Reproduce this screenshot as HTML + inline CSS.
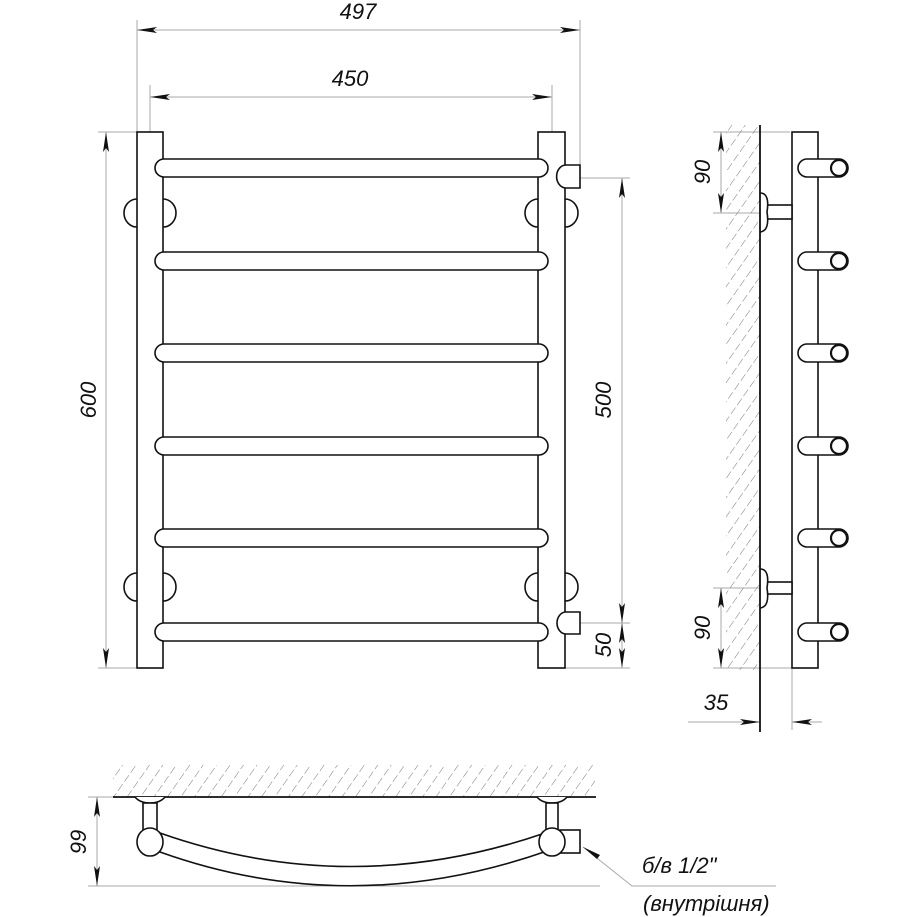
<!DOCTYPE html>
<html><head><meta charset="utf-8"><style>
html,body{margin:0;padding:0;background:#fff}
svg{display:block}
text{font-family:"Liberation Sans","DejaVu Sans",sans-serif;font-style:italic;fill:#111}
</style></head><body>
<svg width="918" height="917" viewBox="0 0 918 917" xmlns="http://www.w3.org/2000/svg">
<defs>
<marker id="a" viewBox="0 0 20 6" refX="20" refY="3" markerWidth="20" markerHeight="6" markerUnits="userSpaceOnUse" orient="auto-start-reverse"><path d="M0,0 L20,3 L0,6 L4,3 Z" fill="#111"/></marker>
<pattern id="h" width="11" height="11" patternUnits="userSpaceOnUse" patternTransform="rotate(35)"><line x1="0" y1="0" x2="0" y2="8" stroke="#777" stroke-width="1"/></pattern>
</defs>
<g fill="none" stroke="#aaa" stroke-width="1">
<line x1="137" y1="20" x2="137" y2="132"/><line x1="580" y1="20" x2="580" y2="165"/>
<line x1="150" y1="85" x2="150" y2="160"/><line x1="552" y1="85" x2="552" y2="135"/>
<line x1="98" y1="132" x2="137" y2="132"/><line x1="98" y1="668" x2="137" y2="668"/>
<line x1="580" y1="178" x2="630" y2="178"/><line x1="580" y1="623" x2="630" y2="623"/><line x1="565" y1="668" x2="630" y2="668"/>
<line x1="137" y1="30" x2="580" y2="30" marker-start="url(#a)" marker-end="url(#a)"/>
<line x1="150" y1="97" x2="552" y2="97" marker-start="url(#a)" marker-end="url(#a)"/>
<line x1="106" y1="132" x2="106" y2="668" marker-start="url(#a)" marker-end="url(#a)"/>
<line x1="622" y1="178" x2="622" y2="623" marker-start="url(#a)" marker-end="url(#a)"/>
<line x1="622" y1="623" x2="622" y2="668" marker-start="url(#a)" marker-end="url(#a)"/>
<line x1="713" y1="132" x2="790" y2="132"/><line x1="713" y1="213" x2="760" y2="213"/>
<line x1="713" y1="588" x2="760" y2="588"/><line x1="713" y1="668" x2="792" y2="668"/>
<line x1="721" y1="132" x2="721" y2="213" marker-start="url(#a)" marker-end="url(#a)"/>
<line x1="721" y1="588" x2="721" y2="668" marker-start="url(#a)" marker-end="url(#a)"/>
<line x1="760" y1="668" x2="760" y2="730"/><line x1="792" y1="668" x2="792" y2="730"/>
<line x1="688" y1="722" x2="760" y2="722" marker-end="url(#a)"/>
<line x1="822" y1="722" x2="792" y2="722" marker-end="url(#a)"/>
<line x1="88" y1="886" x2="600" y2="886"/><line x1="88" y1="797" x2="113" y2="797"/>
<line x1="97" y1="797" x2="97" y2="886" marker-start="url(#a)" marker-end="url(#a)"/>
<polyline points="583,847 632,886 776,886"/>
</g>
<path d="M583,847 L600,855 L597,859 Z" fill="#111"/>
<rect x="726" y="125" width="34" height="545" fill="url(#h)"/>
<rect x="113" y="765" width="482" height="32" fill="url(#h)"/>
<g fill="none" stroke="#111" stroke-width="1.6">
<path d="M137,199 A13,14 0 0 0 137,227"/><path d="M163,199 A13,14 0 0 1 163,227"/>
<path d="M538,199 A13,14 0 0 0 538,227"/><path d="M565,199 A13,14 0 0 1 565,227"/>
<path d="M137,573 A13,14 0 0 0 137,601"/><path d="M163,573 A13,14 0 0 1 163,601"/>
<path d="M538,573 A13,14 0 0 0 538,601"/><path d="M565,573 A13,14 0 0 1 565,601"/>
</g>
<g fill="#fff" stroke="#111" stroke-width="1.6">
<rect x="137" y="132" width="26" height="536"/>
<rect x="538" y="132" width="27" height="536"/>
<rect x="155" y="159" width="393" height="18" rx="9"/>
<rect x="155" y="252" width="393" height="18" rx="9"/>
<rect x="155" y="344" width="393" height="18" rx="9"/>
<rect x="155" y="437" width="393" height="18" rx="9"/>
<rect x="155" y="529" width="393" height="18" rx="9"/>
<rect x="155" y="623" width="393" height="18" rx="9"/>
<path d="M566,165 L580,165 L580,188 L566,188 A9,11 0 0 1 566,165 Z"/>
<path d="M566,612 L580,612 L580,634 L566,634 A9,11 0 0 1 566,612 Z"/>
<rect x="792" y="132" width="26" height="536"/>
<rect x="765" y="205" width="27" height="14"/>
<rect x="765" y="582" width="27" height="12"/>
<path d="M760,193 Q770,193 767,212 Q770,231 760,232"/>
<path d="M760,569 Q770,569 767,588 Q770,607 760,608"/>
</g>
<g fill="#fff" stroke="#111" stroke-width="1.6">
<g id="r"><rect x="798" y="159" width="50" height="18" rx="9"/><circle cx="839" cy="168" r="8" stroke-width="2.2"/></g>
<use href="#r" y="93"/><use href="#r" y="185"/><use href="#r" y="278"/><use href="#r" y="370"/><use href="#r" y="464"/>
</g>
<line x1="760" y1="125" x2="760" y2="732" stroke="#111" stroke-width="1.8"/>
<line x1="113" y1="797" x2="596" y2="797" stroke="#111" stroke-width="1.8"/>
<g fill="#fff" stroke="#111" stroke-width="1.6">
<path d="M135,797 Q140,803 150,803 Q160,803 165,797"/>
<path d="M537,797 Q542,803 552,803 Q562,803 567,797"/>
<rect x="143" y="803" width="14" height="27"/>
<rect x="546" y="803" width="12" height="27"/>
<path d="M160,833 Q350,900 545,833 L547,851 Q350,920 160,852 Z"/>
<rect x="560" y="830" width="20" height="23"/>
<ellipse cx="150" cy="842" rx="13" ry="14"/>
<ellipse cx="552" cy="842" rx="13" ry="14"/>
</g>
<g font-size="22">
<text x="358" y="19" text-anchor="middle">497</text>
<text x="350" y="86" text-anchor="middle">450</text>
<text transform="translate(96,400) rotate(-90)" text-anchor="middle">600</text>
<text transform="translate(611,400) rotate(-90)" text-anchor="middle">500</text>
<text transform="translate(611,645) rotate(-90)" text-anchor="middle">50</text>
<text transform="translate(710,172) rotate(-90)" text-anchor="middle">90</text>
<text transform="translate(710,628) rotate(-90)" text-anchor="middle">90</text>
<text x="716" y="710" text-anchor="middle">35</text>
<text transform="translate(86,842) rotate(-90)" text-anchor="middle">99</text>
<text x="642" y="873">б/в 1/2"</text>
<text x="643" y="911">(внутрішня)</text>
</g>
</svg>
</body></html>
